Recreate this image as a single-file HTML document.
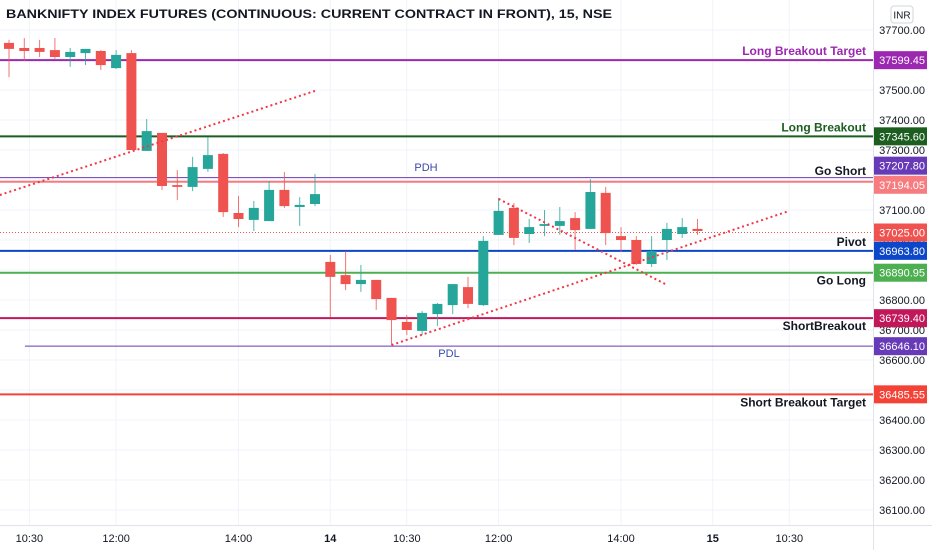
<!DOCTYPE html>
<html><head><meta charset="utf-8">
<style>
html,body{margin:0;padding:0;background:#fff;}
body{width:932px;height:550px;overflow:hidden;font-family:"Liberation Sans",sans-serif;}
svg text{font-family:"Liberation Sans",sans-serif;}
</style></head>
<body>
<svg id="chart" width="932" height="550" viewBox="0 0 932 550" xmlns="http://www.w3.org/2000/svg">
<rect width="932" height="550" fill="#fff"/>
<g id="grid"></g>
<g id="levels"></g>
<g id="candles"></g>
<g id="trends"></g>
<g id="axis"></g>
<text x="6" y="18" font-size="11.5" font-weight="bold" fill="#131722" textLength="606" lengthAdjust="spacingAndGlyphs">BANKNIFTY INDEX FUTURES (CONTINUOUS: CURRENT CONTRACT IN FRONT), 15, NSE</text>
<rect x="891" y="6" width="22" height="17" rx="3" fill="#fff" stroke="#d1d4dc"/>
<text x="902" y="18.5" font-size="10" text-anchor="middle" fill="#131722">INR</text>
</svg>
<script>
const opens  =[37657,37640,37640,37633,37610,37623,37630,37573,37623,37297,37357,37183,37177,37237,37287,37090,37067,37063,37167,37110,37120,
36927,36883,36853,36867,36807,36727,36697,36753,36783,36843,36783,37017,37107,37020,37047,37047,37073,37037,37157,37013,37000,36920,37000,37020,37037];
const highs  =[37667,37673,37667,37673,37640,37637,37633,37633,37633,37403,37357,37233,37277,37343,37290,37147,37130,37197,37227,37143,37220,
36950,36963,36917,36867,36807,36750,36763,36790,36853,36877,37013,37140,37123,37070,37100,37110,37093,37203,37177,37043,37013,37013,37057,37073,37070];
const lows   =[37543,37597,37610,37603,37577,37583,37567,37570,37300,37297,37167,37133,37163,37227,37077,37043,37030,37103,37107,37047,37113,
36743,36833,36827,36767,36650,36683,36683,36713,36753,36773,36780,37017,36983,36990,37013,37017,36967,37037,36983,36960,36917,36910,36933,37007,37017];
const closes =[37637,37630,37627,37610,37627,37637,37583,37617,37300,37363,37180,37177,37243,37283,37093,37070,37107,37167,37113,37117,37153,
36877,36853,36867,36803,36733,36700,36757,36787,36853,36787,36997,37097,37007,37043,37053,37063,37033,37160,37023,37000,36920,36963,37037,37043,37030];
const priceTicks=[37700,37600,37500,37400,37300,37200,37100,37000,36900,36800,36700,36600,36500,36400,36300,36200,36100];
const timeLabels=["10:30","12:00","14:00","14","10:30","12:00","14:00","15","10:30"];
const timeIdx=[1.2,7,15,21,26,32,40,46,51];
const levelPrices=[37599.45,37345.60,37207.80,37194.05,37025.00,36963.80,36890.95,36739.40,36646.10,36485.55];
const levelNames=["Long Breakout Target","Long Breakout","","Go Short","","Pivot","Go Long","ShortBreakout","","Short Breakout Target"];
const levelColors=["#9c27b0","#1b5e20","#673ab7","#f77c80","#ef5350","#0d47c9","#4caf50","#c2185b","#673ab7","#f44336"];
const trendLines=[[-0.6,37150,20,37497],[25,36650,51,37097],[32,37137,42.9,36853]];

const NS="http://www.w3.org/2000/svg";
const yOf=p=>30+(37700-p)*0.3;
const xOf=i=>9+15.3*i;
const plotR=873;
function mk(tag,attrs,parent){const e=document.createElementNS(NS,tag);for(const k in attrs)e.setAttribute(k,attrs[k]);parent.appendChild(e);return e;}
const grid=document.getElementById('grid'),lv=document.getElementById('levels'),cg=document.getElementById('candles'),tg=document.getElementById('trends'),ax=document.getElementById('axis');

priceTicks.forEach(p=>{
  const l=mk('line',{x1:0,x2:plotR,y1:yOf(p),y2:yOf(p),stroke:'#f0f3fa','stroke-width':1},grid);
  
  
  const t=mk('text',{x:925,y:yOf(p)+4,'font-size':11,'text-anchor':'end',fill:'#131722'},ax);
  t.textContent=p.toFixed(2);
  
  
});
timeIdx.forEach((ti,k)=>{
  const x=xOf(ti)+ (k===0?2:0);
  const l=mk('line',{x1:x,x2:x,y1:0,y2:525,stroke:'#f0f3fa','stroke-width':1},grid);
  
  
  const t=mk('text',{x:x,y:542,'font-size':11,'text-anchor':'middle',fill:'#131722','font-weight':(timeLabels[k].length<=2?'bold':'normal')},ax);
  t.textContent=timeLabels[k];
  
  
});
mk('line',{x1:plotR+0.5,x2:plotR+0.5,y1:0,y2:550,stroke:'#e0e3eb'},ax);
mk('line',{x1:0,x2:932,y1:525.5,y2:525.5,stroke:'#e0e3eb'},ax);

levelPrices.forEach((p,i)=>{
  const y=yOf(p);
  const dotted=i===4;
  const l=mk('line',{x1:(i===8?25:0),x2:plotR,y1:y,y2:y,stroke:levelColors[i],'stroke-width':dotted?1:(i===2||i===8?1:2),'stroke-dasharray':dotted?'1,2':'none'},lv);
  
  
  let by=y;
  if(i===2) by=y-12;
  if(i===3) by=y+3;
  const r=mk('rect',{x:plotR+1,y:by-9,width:53,height:18,fill:levelColors[i]},ax);
  
  
  const t=mk('text',{x:925,y:by+4,'font-size':11,'text-anchor':'end',fill:'#fff'},ax);
  t.textContent=p.toFixed(2);
  
  
  if(levelNames[i]){
    const below=[6,7,9].includes(i);
    const col=i===0?'#9c27b0':(i===1?'#1b5e20':'#131722');
    const n=mk('text',{x:866,y:below?y+12:(i===3?y-7:y-5),'font-size':12,'font-weight':'bold','text-anchor':'end',fill:col},lv);
    n.textContent=levelNames[i];
    
    
  }
});
const pdh=mk('text',{x:426,y:171,'font-size':11,'text-anchor':'middle',fill:'#3949ab'},lv);
pdh.textContent='PDH';


const pdl=mk('text',{x:449,y:357,'font-size':11,'text-anchor':'middle',fill:'#3949ab'},lv);
pdl.textContent='PDL';



opens.forEach((o,i)=>{
  const c=closes[i],up=c>=o,col=up?'#26a69a':'#ef5350';
  const x=xOf(i);
  const w=mk('line',{x1:x,x2:x,y1:yOf(highs[i]),y2:yOf(lows[i]),stroke:col,'stroke-width':1,opacity:0.8},cg);
  
  
  const top=yOf(Math.max(o,c)),bot=yOf(Math.min(o,c));
  const b=mk('rect',{x:x-5,y:top,width:10,height:Math.max(1.5,bot-top),fill:col},cg);
  
  
});
trendLines.forEach(t=>{
  const l=mk('line',{x1:xOf(t[0]),y1:yOf(t[1]),x2:xOf(t[2]),y2:yOf(t[3]),stroke:'#f23645','stroke-width':2,'stroke-dasharray':'2,3'},tg);
  
  
});
</script>
</body></html>
